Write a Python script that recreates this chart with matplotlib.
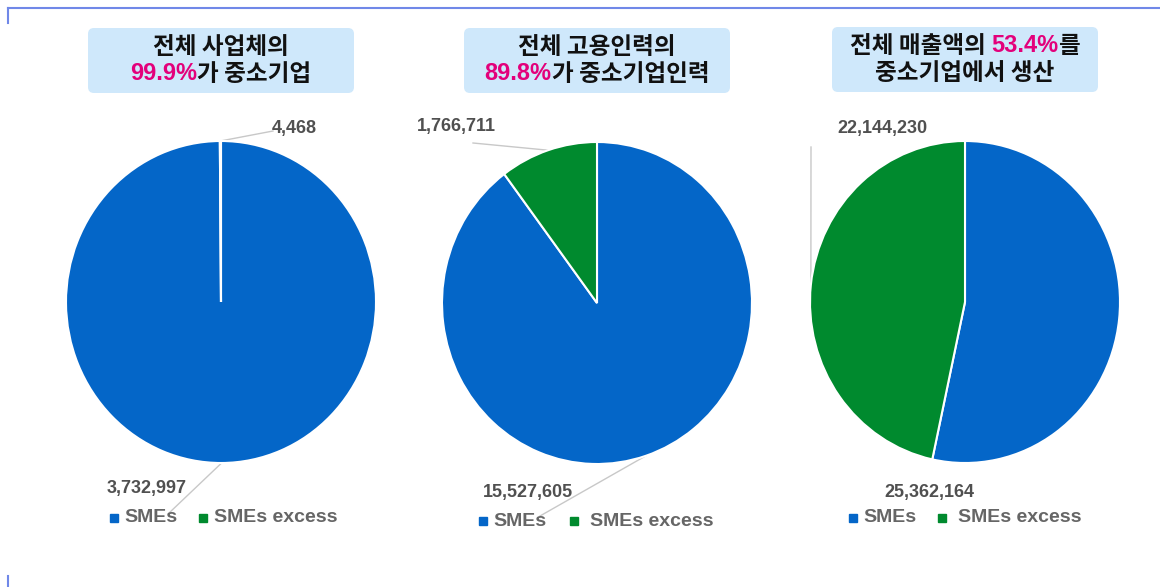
import numpy as np
import matplotlib
matplotlib.use("Agg")
import matplotlib.pyplot as plt
from matplotlib.patches import FancyBboxPatch, Rectangle

plt.rcParams['font.family'] = ['Liberation Sans', 'Noto Sans CJK KR', 'DejaVu Sans']

# data
series_names = ["SMEs", "SMEs excess"]
businesses = [3732997, 4468]
employees = [15527605, 1766711]
sales = [25362164, 22144230]
titles = [
    [[("전체 사업체의", "k")], [("99.9%", "pink"), ("가 중소기업", "k")]],
    [[("전체 고용인력의", "k")], [("89.8%", "pink"), ("가 중소기업인력", "k")]],
    [[("전체 매출액의 ", "k"), ("53.4%", "pink"), ("를", "k")], [("중소기업에서 생산", "k")]],
]

BLUE = "#0466c8"
GREEN = "#008a2e"
PINK = "#e3007b"
BOX = "#cfe8fb"
GRAY = "#505050"
W, H = 1160, 587

fig = plt.figure(figsize=(W / 100, H / 100), dpi=100)
over = fig.add_axes([0, 0, 1, 1])
over.set_xlim(0, W)
over.set_ylim(H, 0)
over.axis("off")

# frame bits
over.plot([8, W], [8, 8], color="#7088e8", lw=1.5)
over.plot([8, 8], [8, 23], color="#7088e8", lw=1.5)
over.plot([8, 8], [576, 587], color="#7088e8", lw=1.5)

centers = [(221, 302), (597, 303), (965, 302)]
rx, ry = 155, 161
datasets = [businesses, employees, sales]
boxes = [(88, 28, 266, 65), (464, 28, 266, 65), (832, 27, 266, 65)]
# label positions (text anchor, leader end)
lab_pos = [
    [((107, 488), (168, 514)), ((272, 128), (273, 131))],
    [((483, 492), (540, 516)), ((417, 127), (473, 143))],
    [((884, 493), None), ((837, 128), (811, 147))],
]
# legend: x of first square, y, spacing, text gap after second square
legend_x = [110, 479, 849]
legend_y = [518, 521, 518]
legend_step = [89, 91, 89]
legend_gap2 = [15, 20, 20]

fig.canvas.draw()
rend = fig.canvas.get_renderer()


def colored_line(x_center, y, parts, size):
    objs = []
    widths = []
    for s, c in parts:
        t = over.text(0, y, s, fontsize=size, fontweight="bold",
                      color=PINK if c == "pink" else "#111111",
                      family=['Liberation Sans', 'Noto Sans CJK KR'] if c == "pink" else ['Noto Sans CJK KR'],
                      va="center", ha="left")
        widths.append(t.get_window_extent(rend).width)
        objs.append(t)
    x = x_center - sum(widths) / 2
    for t, w in zip(objs, widths):
        t.set_x(x)
        x += w


for i, (cx, cy) in enumerate(centers):
    ax = fig.add_axes([(cx - rx) / W, 1 - (cy + ry) / H, 2 * rx / W, 2 * ry / H])
    vals = datasets[i]
    wedges, _ = ax.pie(vals, colors=[BLUE, GREEN], startangle=90, counterclock=False,
                       wedgeprops=dict(edgecolor="white", linewidth=1.5))
    ax.set_aspect("auto")
    ax.set_xlim(-1, 1)
    ax.set_ylim(-1, 1)

    # title box
    bx, by, bw, bh = boxes[i]
    over.add_patch(FancyBboxPatch((bx + 6, by + 6), bw - 12, bh - 12,
                                  boxstyle="round,pad=6", fc=BOX, ec="none"))
    colored_line(bx + bw / 2, by + 19, titles[i][0], 17)
    colored_line(bx + bw / 2, by + 46, titles[i][1], 17)

    # data labels with leader lines
    for k, w in enumerate(wedges):
        mid = np.deg2rad((w.theta1 + w.theta2) / 2)
        ax_x = cx + rx * np.cos(mid)
        ax_y = cy - ry * np.sin(mid)
        (tx, ty), lend = lab_pos[i][k]
        over.text(tx, ty, f"{vals[k]:,}", fontsize=13, fontweight="bold",
                  color=GRAY, va="center", ha="left")
        if lend is not None:
            over.plot([ax_x, lend[0]], [ax_y, lend[1]], color="#c8c8c8", lw=1, zorder=0)

    # legend
    lx, ly = legend_x[i], legend_y[i]
    for k, name in enumerate(series_names):
        x0 = lx + k * legend_step[i]
        over.add_patch(Rectangle((x0, ly - 4), 8, 8, color=[BLUE, GREEN][k]))
        gap = 14 if k == 0 else legend_gap2[i]
        over.text(x0 + gap, ly, name, fontsize=14, fontweight="bold",
                  color="#666666", va="center", ha="left")

fig.savefig("out.png", dpi=100)
